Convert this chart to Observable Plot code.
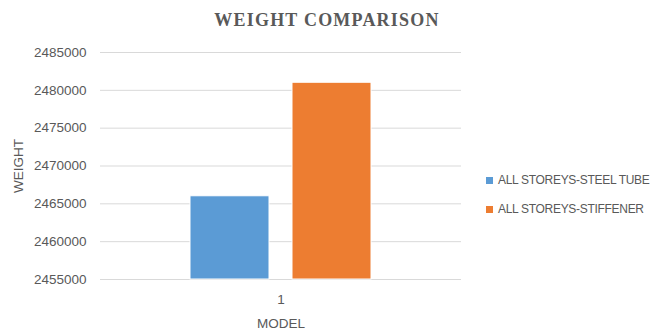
<!DOCTYPE html>
<html>
<head>
<meta charset="utf-8">
<script src="https://cdn.jsdelivr.net/npm/d3@7"></script>
<script src="https://cdn.jsdelivr.net/npm/@observablehq/plot@0.6"></script>
<style>
  body { margin: 0; background: #fff; }
  #wrap { width: 654px; height: 329px; overflow: hidden; background: #fff; }
  #title { height: 40px; line-height: 40px; text-align: center; font-family: "Liberation Serif", "Times New Roman", serif; font-weight: bold; font-size: 18px; letter-spacing: 1.2px; color: #595959; }
  #row { display: flex; flex-direction: row; align-items: flex-start; }
  #legend { padding-top: 132px; padding-left: 16px; width: 168px; }
  #legend .lg-swatch { margin-bottom: 12px; height: 16px; white-space: nowrap; }
  #legend .lg-swatch svg { margin-right: 5px !important; }
  #legend .lg-swatch-label, #legend div { overflow: visible !important; text-overflow: clip !important; white-space: nowrap; }
</style>
</head>
<body>
<div id="wrap">
  <div id="title">WEIGHT COMPARISON</div>
  <div id="row"><div id="chart"></div><div id="legend"></div></div>
</div>
<script>
const models = ["1"];
const series = ["ALL STOREYS-STEEL TUBE", "ALL STOREYS-STIFFENER"];
const weights = [2466000, 2481000];
const yTicks = [2455000, 2460000, 2465000, 2470000, 2475000, 2480000, 2485000];
const colors = ["#5b9bd5", "#ed7d31"];

const data = series.map((s, i) => ({model: models[0], series: s, weight: weights[i]}));

const chart = Plot.plot({
  width: 470,
  height: 289,
  marginTop: 12,
  marginBottom: 50,
  marginLeft: 100,
  marginRight: 9,
  style: {fontFamily: "'Liberation Sans', Arial, sans-serif", fontSize: "13.5px", color: "#595959", background: "white"},
  fx: {domain: models, padding: 0, label: "MODEL", tickSize: 0, tickPadding: 15, labelOffset: 48, labelAnchor: "center"},
  x: {domain: series, paddingInner: 0.223, paddingOuter: 0.864, axis: null},
  y: {domain: [yTicks[0], yTicks[yTicks.length - 1]], ticks: yTicks, tickFormat: d3.format("d"), tickSize: 0, tickPadding: 14,
      label: "WEIGHT", labelAnchor: "center", labelOffset: 87, labelArrow: "none"},
  color: {domain: series, range: colors},
  marks: [
    Plot.gridY(yTicks, {stroke: "#d9d9d9", strokeOpacity: 1}),
    Plot.barY(data, {fx: "model", x: "series", y1: yTicks[0], y2: "weight", fill: "series", stroke: "white", strokeWidth: 1})
  ]
});
document.getElementById("chart").appendChild(chart);

const legend = Plot.legend({
  color: {domain: series, range: colors},
  legend: "swatches",
  columns: 1,
  swatchSize: 7,
  className: "lg",
  style: {fontFamily: "'Liberation Sans', Arial, sans-serif", fontSize: "12px", letterSpacing: "-0.3px", color: "#595959"}
});
document.getElementById("legend").appendChild(legend);
</script>
</body>
</html>
